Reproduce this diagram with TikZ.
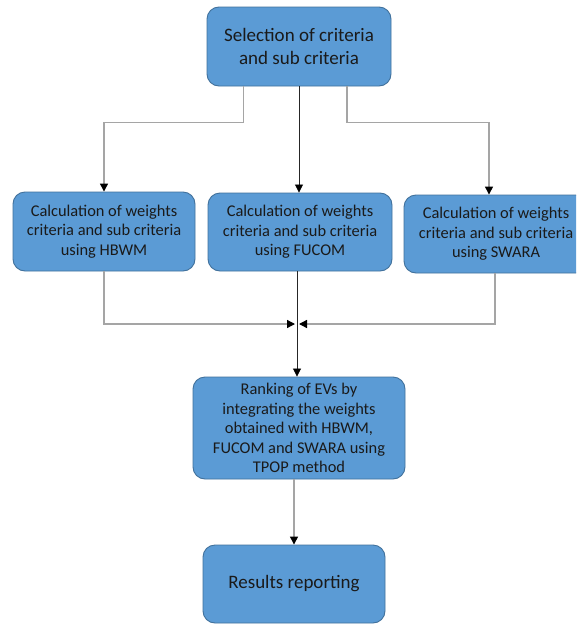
\documentclass[tikz,border=0pt]{standalone}
\usepackage{fontspec}
\setmainfont{Carlito}
\usetikzlibrary{arrows.meta,calc}
\definecolor{boxfill}{HTML}{5B9BD5}
\definecolor{boxline}{HTML}{41719C}
\definecolor{txt}{HTML}{1A1A1A}
\definecolor{conn}{HTML}{A5A5A5}
\tikzset{
  procbox/.style={draw=boxline, line width=0.9pt, fill=boxfill, rounded corners=12pt,
    text=txt, align=center, inner sep=0pt, font=\fontsize{16.4}{19.5}\selectfont},
  bigbox/.style={procbox, font=\fontsize{19}{23.5}\selectfont},
  tipend/.style={-{Triangle[length=8pt,width=8pt,color=black]}},
  grayline/.style={draw=conn, line width=1.3pt},
  darkline/.style={draw=black!85, line width=0.8pt}
}
\begin{document}
\begin{tikzpicture}[x=1pt,y=-1pt]
\useasboundingbox (0,0) rectangle (576,624);
\clip (0,0) rectangle (576,624);
\fill[white] (0,0) rectangle (576,624);
\node[bigbox, minimum width=184pt, minimum height=79pt] (top) at (299,46.5) {Selection of criteria\\and sub criteria};
\node[procbox, minimum width=182pt, minimum height=79pt] (b1) at (104,231.5) {Calculation of weights\\criteria and sub criteria\\using HBWM};
\node[procbox, minimum width=184pt, minimum height=78pt] (b2) at (300,232) {Calculation of weights\\criteria and sub criteria\\using FUCOM};
\node[procbox, minimum width=184pt, minimum height=78pt] (b3) at (496,234) {Calculation of weights\\criteria and sub criteria\\using SWARA};
\node[procbox, minimum width=212pt, minimum height=102pt] (b4) at (299,428) {Ranking of EVs by\\integrating the weights\\obtained with HBWM,\\FUCOM and SWARA using\\TPOP method};
\node[bigbox, minimum width=182pt, minimum height=78pt] (b5) at (294,584) {Results reporting};
\coordinate (tl) at ($(top.south west)!0.2!(top.south east)$);
\coordinate (tr) at ($(top.south west)!0.76!(top.south east)$);
\coordinate (b3in) at ($(b3.north)+(-7,0)$);
\coordinate (m) at (297,324);
\draw[grayline, tipend] (tl) -- ++(0,36) -| (b1.north);
\draw[darkline, tipend] (top.south) -- (top.south |- b2.north);
\draw[grayline, tipend] (tr) -- ++(0,36) -| (b3in);
\draw[grayline, tipend] (b1.south) |- ($(m)+(-2,0)$);
\draw[grayline, tipend] ($(b3.south)+(-1,0)$) |- ($(m)+(2,0)$);
\draw[darkline, tipend] (b2.south -| m) -- (m |- b4.north);
\draw[grayline, tipend] (b5.north |- b4.south) -- (b5.north);
\end{tikzpicture}
\end{document}
